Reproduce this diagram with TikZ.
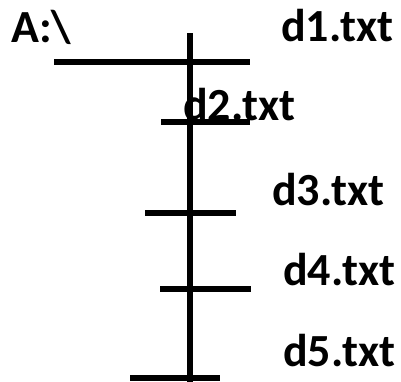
\documentclass[tikz,border=0pt]{standalone}
\usepackage{fontspec}
\setmainfont{Carlito}
\begin{document}
\begin{tikzpicture}[x=0.75pt,y=-0.75pt,
  bar/.style={line width=4.5pt},
  label/.style={anchor=base west,inner sep=0pt,font=\fontsize{34.5}{40}\selectfont\bfseries}]
\useasboundingbox (0,0) rectangle (401,382);
% trunk
\coordinate (top) at (190,33);
\coordinate (bottom) at (190,382);
\draw[bar] (top) -- (bottom);
% branches
\draw[bar] (54,62) -- (250,62);
\draw[bar] (161,122) -- (250,122);
\draw[bar] (145,213) -- (236,213);
\draw[bar] (160,289) -- (251,289);
\draw[bar] (130,378) -- (220,378);
% labels
\node[label] (root) at (11,42) {A:\textbackslash};
\node[label] (d1) at (281,41) {d1.txt};
\node[label] (d2) at (183,120) {d2.txt};
\node[label] (d3) at (272,205) {d3.txt};
\node[label] (d4) at (283,286) {d4.txt};
\node[label] (d5) at (283,366) {d5.txt};
\end{tikzpicture}
\end{document}
